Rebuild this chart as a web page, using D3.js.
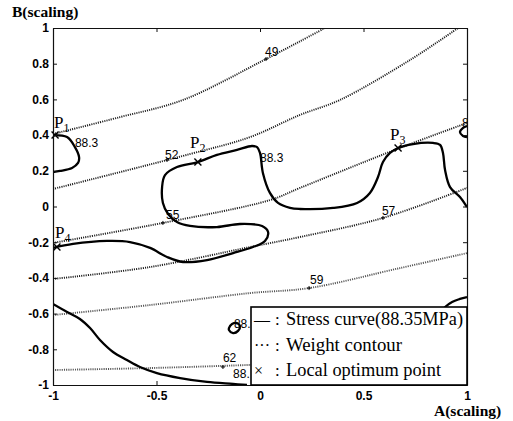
<!DOCTYPE html>
<html><head><meta charset="utf-8">
<script src="https://cdn.jsdelivr.net/npm/d3@7"></script>
<style>
body{margin:0;background:#fff;}
svg{display:block;}
</style></head>
<body>
<svg id="chart" width="513" height="421"></svg>
<script>
// ---- data (A, B scaling) ----
const xTicks = [-1, -0.5, 0, 0.5, 1];
const yTicks = [1, 0.8, 0.6, 0.4, 0.2, 0, -0.2, -0.4, -0.6, -0.8, -1];
const xTickLabels = ["-1", "-0.5", "0", "0.5", "1"];
const yTickLabels = ["1", "0.8", "0.6", "0.4", "0.2", "0", "-0.2", "-0.4", "-0.6", "-0.8", "-1"];

// weight contours (dotted)
const weightLevels = ["49", "52", "55", "57", "59", "62"];
const w49 = [[-1,0.406],[-0.676,0.501],[-0.372,0.597],[0.029,0.826],[0.314,1.0]];
const w52 = [[-1,0.098],[-0.338,0.294],[-0.048,0.389],[0.193,0.513],[0.386,0.597],[0.725,0.821],[0.957,1.0]];
const w55 = [[-1,-0.204],[-0.469,-0.092],[0.048,0.036],[0.193,0.104],[0.662,0.322],[1.0,0.468]];
const w57 = [[-1,-0.406],[-0.531,-0.339],[-0.048,-0.227],[0.193,-0.171],[0.594,-0.064],[1.0,0.104]];
const w59 = [[-1,-0.608],[-0.531,-0.552],[-0.048,-0.485],[0.237,-0.457],[0.676,-0.345],[1.0,-0.261]];
const w62 = [[-1,-0.916],[-0.531,-0.905],[-0.063,-0.888],[0.2,-0.875]];
const weightLines = [w49, w52, w55, w57, w59, w62];
// label anchor (text start, baseline) and "+" marker on each weight contour
const weightLabelPos = [[0.024,0.843],[-0.459,0.266],[-0.454,-0.070],[0.589,-0.048],[0.242,-0.434],[-0.179,-0.871]];
const weightMarkPos = [[0.029,0.826],[-0.449,0.261],[-0.469,-0.092],[0.594,-0.064],[0.237,-0.457],[-0.179,-0.899]];

// stress curves (88.35 MPa)
const stressMain = [[-1,-0.232],[-0.903,-0.210],[-0.739,-0.193],[-0.628,-0.199],[-0.531,-0.232],[-0.449,-0.283],
  [-0.372,-0.311],[-0.256,-0.300],[-0.130,-0.261],[-0.034,-0.227],[0.024,-0.193],[0.039,-0.143],[0.010,-0.109],
  [-0.097,-0.098],[-0.208,-0.115],[-0.338,-0.109],[-0.401,-0.087],[-0.444,-0.042],[-0.469,0.020],[-0.473,0.109],
  [-0.459,0.176],[-0.401,0.221],[-0.300,0.249],[-0.208,0.289],[-0.111,0.317],[-0.039,0.339],[-0.014,0.333],
  [0.0,0.300],[0.014,0.188],[0.048,0.076],[0.087,0.020],[0.145,-0.008],[0.193,-0.014],[0.353,-0.008],
  [0.469,0.020],[0.531,0.076],[0.570,0.165],[0.594,0.249],[0.628,0.300],[0.667,0.328],[0.739,0.350],
  [0.836,0.356],[0.870,0.345],[0.884,0.300],[0.894,0.204],[0.918,0.109],[0.966,0.053],[1.0,-0.003]];
const stressP1 = [[-1,0.40],[-0.932,0.389],[-0.894,0.333],[-0.874,0.277],[-0.879,0.244],[-0.908,0.216],[-0.966,0.199],[-1,0.193]];
const stressBottom = [[-1,-0.546],[-0.932,-0.591],[-0.870,-0.630],[-0.821,-0.681],[-0.773,-0.748],[-0.710,-0.815],
  [-0.643,-0.860],[-0.580,-0.899],[-0.498,-0.933],[-0.386,-0.961],[-0.256,-0.983],[-0.130,-0.994],[-0.063,-1]];
const stressRightTop = [[1.0,0.451],[0.981,0.44],[0.966,0.417],[0.981,0.395],[1.0,0.389]];
const stressRightLow = [[0.85,-0.62],[0.894,-0.563],[0.928,-0.535],[0.966,-0.518],[1,-0.507]];
const stressBlob = [[-0.150,-0.681],[-0.135,-0.658],[-0.111,-0.653],[-0.097,-0.669],[-0.106,-0.697],[-0.130,-0.709],[-0.150,-0.692]];
const stressOpen = [stressMain, stressP1, stressBottom, stressRightTop, stressRightLow];
// visible label texts (the last two are cut by the legend box in the original)
const stressLabels = ["88.3", "88.3", "88.3", "88.", "88."];
const stressLabelPos = [[-0.894,0.333],[0.0,0.249],[0.976,0.445],[-0.126,-0.681],[-0.130,-0.961]];

// local optimum points
const optNames = ["1", "2", "3", "4"];
const optPoints = [[-0.99,0.40],[-0.30,0.249],[0.667,0.328],[-0.981,-0.227]];
const optLabelPos = [[-0.995,0.440],[-0.338,0.328],[0.628,0.373],[-0.990,-0.176]];

const legendSymbols = ["—", "···", "×"];
const legendTexts = ["Stress curve(88.35MPa)", "Weight contour", "Local optimum point"];

// ---- drawing ----
const svg = d3.select("#chart");
const L = 53, R = 467, T = 28, B = 385;
const x = d3.scaleLinear().domain([-1, 1]).range([L, R]);
const y = d3.scaleLinear().domain([-1, 1]).range([B, T]);
const serif = "'Liberation Serif','Times New Roman',serif";
const sans = "'Liberation Sans',Arial,sans-serif";

svg.append("defs").append("clipPath").attr("id", "plot")
  .append("rect").attr("x", L).attr("y", T).attr("width", R - L).attr("height", B - T);

const g = svg.append("g").attr("clip-path", "url(#plot)");
const line = d3.line().x(d => x(d[0])).y(d => y(d[1])).curve(d3.curveCatmullRom.alpha(0.5));
const closedLine = d3.line().x(d => x(d[0])).y(d => y(d[1])).curve(d3.curveCatmullRomClosed.alpha(0.5));

// weight contours
g.selectAll("path.w").data(weightLines).join("path").attr("class", "w")
  .attr("d", line).attr("fill", "none").attr("stroke", (d, i) => i < 4 ? "#1e1e1e" : "#555")
  .attr("stroke-width", 1.9).attr("stroke-dasharray", "1.1,1.1");

// stress curves
g.selectAll("path.s").data(stressOpen).join("path").attr("class", "s")
  .attr("d", line).attr("fill", "none").attr("stroke", "#000").attr("stroke-width", 2.3)
  .attr("stroke-linejoin", "round");
g.append("path").attr("d", closedLine(stressBlob)).attr("fill", "none")
  .attr("stroke", "#000").attr("stroke-width", 2.3);

// contour label markers
g.selectAll("path.pm").data(weightMarkPos).join("path").attr("class", "pm")
  .attr("d", d => `M${x(d[0]) - 2},${y(d[1])}h4M${x(d[0])},${y(d[1]) - 2}v4`)
  .attr("stroke", "#000").attr("stroke-width", 1);

// contour labels
g.selectAll("text.wl").data(weightLevels).join("text").attr("class", "wl")
  .attr("x", (d, i) => x(weightLabelPos[i][0])).attr("y", (d, i) => y(weightLabelPos[i][1]))
  .attr("font-family", sans).attr("font-size", 12).attr("fill", "#000").text(d => d);
g.selectAll("text.sl").data(stressLabels).join("text").attr("class", "sl")
  .attr("x", (d, i) => x(stressLabelPos[i][0])).attr("y", (d, i) => y(stressLabelPos[i][1]))
  .attr("font-family", sans).attr("font-size", 12).attr("fill", "#000").text(d => d);

// optimum markers
svg.selectAll("path.opt").data(optPoints).join("path").attr("class", "opt")
  .attr("d", d => { const cx = x(d[0]), cy = y(d[1]), s = 3.5;
    return `M${cx - s},${cy - s}L${cx + s},${cy + s}M${cx - s},${cy + s}L${cx + s},${cy - s}`; })
  .attr("stroke", "#000").attr("stroke-width", 1.4);

const pl = svg.selectAll("text.pl").data(optNames).join("text").attr("class", "pl")
  .attr("x", (d, i) => x(optLabelPos[i][0])).attr("y", (d, i) => y(optLabelPos[i][1]))
  .attr("font-family", serif).attr("font-size", 17).attr("fill", "#000");
pl.append("tspan").text("P");
pl.append("tspan").attr("font-size", 12).attr("dy", 4).text(d => d);

// axes
const fmtX = d => xTickLabels[xTicks.indexOf(d)];
const fmtY = d => yTickLabels[yTicks.indexOf(d)];
const axB = svg.append("g").attr("transform", `translate(0,${B})`)
  .call(d3.axisBottom(x).tickValues(xTicks).tickFormat(fmtX).tickSizeInner(-4).tickSizeOuter(0).tickPadding(6));
const axL = svg.append("g").attr("transform", `translate(${L},0)`)
  .call(d3.axisLeft(y).tickValues(yTicks).tickFormat(fmtY).tickSizeInner(-4).tickSizeOuter(0).tickPadding(4));
const axT = svg.append("g").attr("transform", `translate(0,${T})`)
  .call(d3.axisTop(x).tickValues(xTicks).tickFormat("").tickSizeInner(-4).tickSizeOuter(0));
const axR = svg.append("g").attr("transform", `translate(${R},0)`)
  .call(d3.axisRight(y).tickValues(yTicks).tickFormat("").tickSizeInner(-4).tickSizeOuter(0));
[axB, axL, axT, axR].forEach(a => {
  a.selectAll("path.domain").attr("stroke", "#111").attr("stroke-width", 1.2);
  a.selectAll(".tick line").attr("stroke", "#111");
  a.selectAll("text").attr("font-family", sans).attr("font-size", 12).attr("font-weight", "bold").attr("fill", "#000");
});

// legend
const lg = svg.append("g");
lg.append("rect").attr("x", 251).attr("y", 307).attr("width", R - 251).attr("height", B - 307)
  .attr("fill", "#fff").attr("stroke", "#000").attr("stroke-width", 1.6);
const legendWidths = [177, 116, 155];
legendTexts.forEach((t, i) => {
  const by = 325 + i * 25.5;
  lg.append("text").attr("x", 254).attr("y", by).attr("font-family", serif).attr("font-size", 16).text(legendSymbols[i]);
  lg.append("text").attr("x", 275).attr("y", by).attr("font-family", serif).attr("font-size", 17).text(":");
  lg.append("text").attr("x", 286).attr("y", by).attr("font-family", serif).attr("font-size", 18)
    .attr("textLength", legendWidths[i]).attr("lengthAdjust", "spacingAndGlyphs").text(t);
});

// axis titles
svg.append("text").attr("x", 12).attr("y", 17).attr("font-family", serif).attr("font-size", 15.5)
  .attr("font-weight", "bold").text("B(scaling)");
svg.append("text").attr("x", 434).attr("y", 416).attr("font-family", serif).attr("font-size", 15.5)
  .attr("font-weight", "bold").text("A(scaling)");
</script>
</body></html>
